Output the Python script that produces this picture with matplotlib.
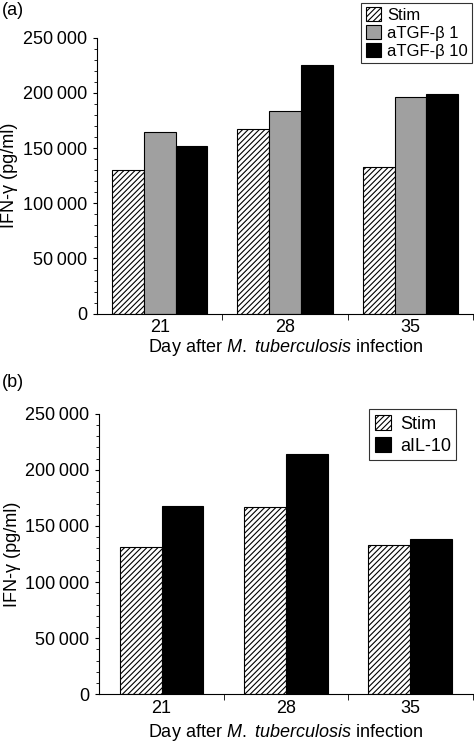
import numpy as np
import matplotlib.pyplot as plt
from matplotlib.ticker import MultipleLocator, FuncFormatter

plt.rcParams['font.family'] = ['Liberation Sans', 'DejaVu Sans']
plt.rcParams['mathtext.fontset'] = 'custom'
plt.rcParams['mathtext.rm'] = 'Liberation Sans'
plt.rcParams['mathtext.it'] = 'Liberation Sans:italic'
plt.rcParams['hatch.linewidth'] = 0.8

days = ['21', '28', '35']

# panel (a)
stim_a = [130000, 167000, 133000]
tgf1_a = [165000, 184000, 196000]
tgf10_a = [152000, 225000, 199000]

# panel (b)
stim_b = [131000, 167000, 133000]
il10_b = [168000, 214000, 138000]

fig = plt.figure(figsize=(4.74, 7.43), dpi=100)
ax1 = fig.add_axes([0.2046, 0.5778, 0.7934, 0.3715])
ax2 = fig.add_axes([0.2095, 0.0655, 0.7875, 0.3777])

fmt = FuncFormatter(lambda v, p: '0' if v == 0 else f'{int(v):,}'.replace(',', '\u2009'))


def style(ax, xlab_y):
    ax.set_xlim(-0.5, 2.5)
    ax.set_ylim(0, 250000)
    ax.spines['top'].set_visible(False)
    ax.spines['right'].set_visible(False)
    ax.spines['left'].set_bounds(0, 250000)
    ax.yaxis.set_major_locator(MultipleLocator(50000))
    ax.yaxis.set_minor_locator(MultipleLocator(10000))
    ax.yaxis.set_major_formatter(fmt)
    ax.tick_params(axis='y', which='major', length=3, width=0.8, labelsize=13, pad=4)
    ax.tick_params(axis='y', which='minor', length=2, width=0.6)
    ax.set_xticks(range(3))
    ax.set_xticklabels(days)
    ax.set_xticks([0.5, 1.5, 2.5], minor=True)
    ax.tick_params(axis='x', which='major', length=0, labelsize=13, pad=4)
    ax.tick_params(axis='x', which='minor', length=4, width=0.6)
    ax.set_ylabel('IFN-\u03b3 (pg/ml)', fontsize=13)
    ax.yaxis.set_label_coords(-0.21, 0.5)
    ax.set_xlabel('Day after $\\mathit{M.\\ tuberculosis}$ infection', fontsize=13)
    ax.xaxis.set_label_coords(0.5, xlab_y)


x = np.arange(3)
w = 0.253
ax1.bar(x - w, stim_a, w, color='white', edgecolor='black', hatch='//////', linewidth=0.8, label='Stim')
ax1.bar(x, tgf1_a, w, color='#a0a0a0', edgecolor='black', linewidth=0.8, label='aTGF-\u03b2 1')
ax1.bar(x + w, tgf10_a, w, color='black', edgecolor='black', linewidth=0.8, label='aTGF-\u03b2 10')
style(ax1, -0.085)
ax1.legend(loc='upper right', bbox_to_anchor=(0.996, 0.996), bbox_transform=fig.transFigure,
           fontsize=12, frameon=True, fancybox=False, edgecolor='black', handlelength=0.9,
           handleheight=0.9, handletextpad=0.4, borderpad=0.25, labelspacing=0.15,
           borderaxespad=0).get_frame().set_linewidth(0.8)

w2 = 0.337
ax2.bar(x - w2 / 2, stim_b, w2, color='white', edgecolor='black', hatch='//////', linewidth=0.8, label='Stim')
ax2.bar(x + w2 / 2, il10_b, w2, color='black', edgecolor='black', linewidth=0.8, label='aIL-10')
style(ax2, -0.098)
ax2.legend(loc='upper right', bbox_to_anchor=(0.963, 0.449), bbox_transform=fig.transFigure,
           fontsize=13, frameon=True, fancybox=False, edgecolor='black', handlelength=0.9,
           handleheight=0.9, handletextpad=0.5, borderpad=0.3, labelspacing=0.25,
           borderaxespad=0).get_frame().set_linewidth(0.8)

fig.text(0.003, 0.997, '(a)', fontsize=13, va='top', ha='left')
fig.text(0.003, 0.497, '(b)', fontsize=13, va='top', ha='left')

fig.savefig('out.png', dpi=100)
